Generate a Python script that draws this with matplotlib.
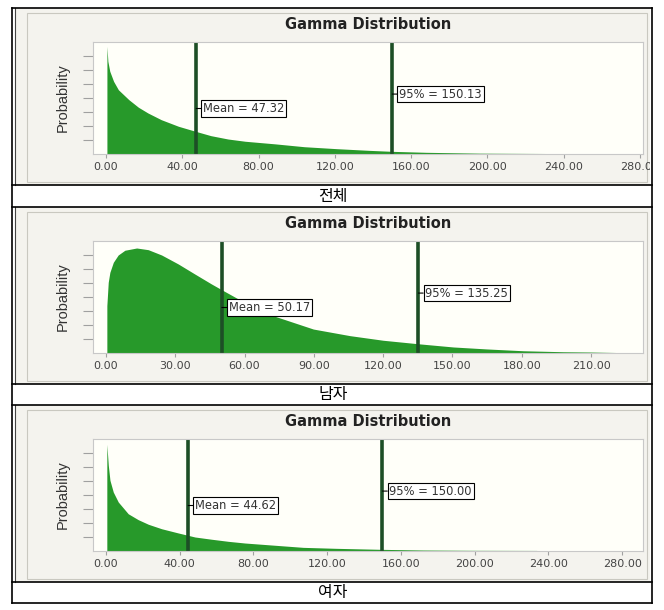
import matplotlib
matplotlib.use("Agg")
import matplotlib.pyplot as plt
from matplotlib.patches import Rectangle
from matplotlib.transforms import Bbox

W, H = 664, 610

captions = ["전체", "남자", "여자"]
means = [47.32, 50.17, 44.62]
pct95 = [150.13, 135.25, 150.00]

# curve heights (arbitrary probability units)
x_all = [0.5, 1, 2, 4, 6.5, 12, 17, 22, 29, 38, 47, 55, 64, 73, 89, 104, 121, 138, 150, 168, 196, 225, 254]
p_all = [7.69, 6.62, 5.91, 5.19, 4.59, 3.88, 3.34, 2.93, 2.45, 1.98, 1.62, 1.31, 1.07, 0.91, 0.72, 0.52, 0.38, 0.26, 0.19, 0.12, 0.06, 0.04, 0.02]

x_male = [0.4, 1, 1.7, 3.2, 5.3, 8.2, 13.3, 18.3, 24.1, 31.3, 38.5, 45.7, 50.1, 57.3, 71, 89.8, 105.6, 120, 135.2, 150.4, 164.8, 180.7, 198, 209.5, 226]
p_male = [3.38, 5.05, 5.76, 6.48, 7.0, 7.34, 7.5, 7.38, 7.0, 6.36, 5.64, 4.93, 4.52, 3.86, 2.74, 1.71, 1.24, 0.91, 0.66, 0.43, 0.29, 0.16, 0.09, 0.07, 0.02]

x_fem = [0.5, 1.3, 2.2, 4, 6.7, 12.1, 17.5, 23, 30.2, 39.2, 48.3, 57.3, 66.4, 75.4, 91.7, 107, 125, 148.7, 172, 197.5, 233.7]
p_fem = [7.62, 6.12, 5.05, 4.21, 3.5, 2.66, 2.24, 1.91, 1.59, 1.29, 1.0, 0.84, 0.69, 0.57, 0.41, 0.26, 0.19, 0.12, 0.07, 0.05, 0.04]

xs = [x_all, x_male, x_fem]
ps = [p_all, p_male, p_fem]
xticks = [list(range(0, 281, 40)), list(range(0, 211, 30)), list(range(0, 281, 40))]
xlims = [(-6.8, 281.6), (-5.6, 232.5), (-7.0, 291.3)]

FILL = "#27992A"
LINE = "#1D4F26"

tops = [8, 207, 405]

fig = plt.figure(figsize=(W / 100, H / 100), dpi=100)
bg = fig.add_axes([0, 0, 1, 1])
bg.set_xlim(0, W)
bg.set_ylim(H, 0)
bg.axis("off")

for i in range(3):
    top = tops[i]
    base = top + 146

    # screenshot background and frame
    bg.add_patch(Rectangle((15, top), 635, 177, fc="#F4F3EE", ec="none"))
    bg.add_patch(Rectangle((27, top + 5), 620, 169, fc="none", ec="#C9C8C0", lw=0.8))
    bg.plot([15, 15], [top, top + 177], color="#444444", lw=0.8)

    # table lines and caption
    bg.plot([12, 652], [top, top], color="black", lw=1.2)
    bg.plot([12, 652], [top + 177, top + 177], color="black", lw=1.2)
    bg.text(333, top + 188, captions[i], ha="center", va="center",
            fontsize=11.5, family=["Noto Sans CJK KR", "DejaVu Sans"])

    ax = fig.add_axes([93 / W, 1 - base / H, 550 / W, 112 / H])
    ax.set_facecolor("#FFFFF9")
    ax.fill_between(xs[i], 0, ps[i], color=FILL, lw=0)
    ax.axvline(means[i], color=LINE, lw=2.6)
    ax.axvline(pct95[i], color=LINE, lw=2.6)

    box = dict(boxstyle="square,pad=0.15", fc="white", ec="black", lw=0.8)
    arrow = dict(arrowstyle="-", color="black", lw=0.8, shrinkA=0, shrinkB=0)
    ax.annotate(f"Mean = {means[i]:.2f}", xy=(means[i], 3.25), xytext=(5, 0),
                textcoords="offset points", va="center", fontsize=8.3,
                color="#333333", bbox=box, arrowprops=arrow)
    ax.annotate(f"95% = {pct95[i]:.2f}", xy=(pct95[i], 4.28), xytext=(5, 0),
                textcoords="offset points", va="center", fontsize=8.3,
                color="#333333", bbox=box, arrowprops=arrow)

    ax.set_xlim(*xlims[i])
    ax.set_ylim(0, 8.0)
    ax.set_xticks(xticks[i])
    ax.set_xticklabels([f"{t:.2f}" for t in xticks[i]])
    ax.set_yticks(range(1, 8))
    ax.set_yticklabels([])
    ax.tick_params(axis="x", length=3, color="#A0A0A0", labelsize=8, pad=3,
                   labelcolor="#444444")
    ax.tick_params(axis="y", length=7, color="#A0A0A0")
    for s in ax.spines.values():
        s.set_color("#C8C8C8")
        s.set_linewidth(0.8)

    ax.set_title("Gamma Distribution", fontsize=10.5, fontweight="bold",
                 color="#222222", pad=9.7)
    ax.set_ylabel("Probability", fontsize=10.5, family="Liberation Sans",
                  color="#333333", labelpad=6)

    clip = Bbox.from_extents(15, H - top - 177, 650, H - top)
    for t in ax.xaxis.get_major_ticks():
        t.label1.set_clip_box(clip)
        t.label1.set_clip_on(True)

bg.plot([12, 652], [603, 603], color="black", lw=1.2)
bg.plot([12, 12], [8, 603], color="black", lw=1.2)
bg.plot([652, 652], [8, 603], color="black", lw=1.2)

fig.savefig("out.png", dpi=100)
